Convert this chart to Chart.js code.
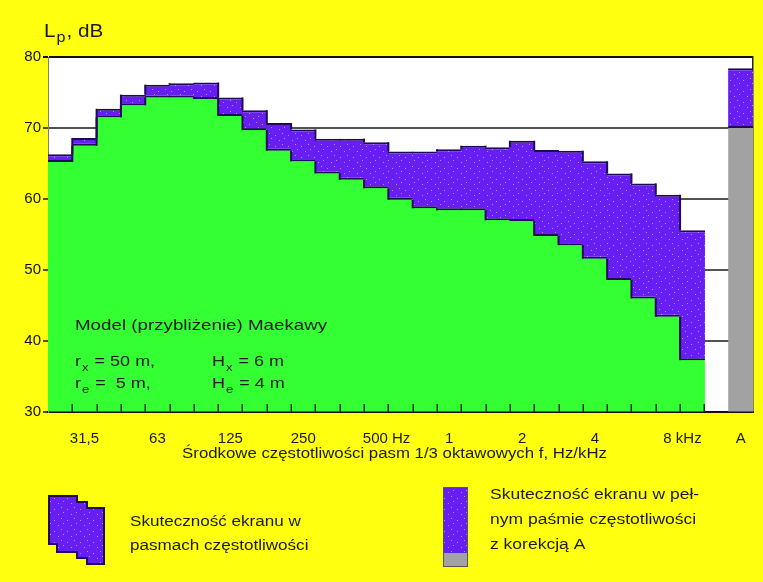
<!DOCTYPE html>
<html lang="pl">
<head>
<meta charset="utf-8">
<title>Skuteczność ekranu akustycznego – model Maekawy</title>
<script src="https://cdn.jsdelivr.net/npm/chart.js@4.4.1/dist/chart.umd.min.js"></script>
<style>
  html, body { margin: 0; padding: 0; background: #ffff10; }
  canvas { display: block; }
</style>
</head>
<body>
<canvas id="chart" width="763" height="582"></canvas>
<script>
// Pasma tercjowe (Hz), pusta kolumna odstępu i poziom skorygowany A
const bands = ['25', '31,5', '40', '50', '63', '80', '100', '125', '160', '200', '250', '315', '400',
  '500', '630', '800', '1k', '1,25k', '1,6k', '2k', '2,5k', '3,15k', '4k', '5k', '6,3k', '8k', '10k', '', 'A'];
// Opisy osi częstotliwości
const tickLabels = ['', '31,5', '', '', '63', '', '', '125', '', '', '250', '', '', '500 Hz', '', '',
  '1', '', '', '2', '', '', '4', '', '', '8 kHz', '', '', 'A'];
// Poziom dźwięku bez ekranu, dB
const levelWithoutBarrier = [66.3, 68.6, 72.7, 74.7, 76.1, 76.3, 76.4, 74.3, 72.5, 70.7, 69.8, 68.5, 68.5,
  68.0, 66.7, 66.7, 67.0, 67.5, 67.3, 68.2, 66.9, 66.8, 65.3, 63.6, 62.2, 60.6, 55.6];
// Poziom dźwięku za ekranem, dB
const levelWithBarrier = [65.2, 67.5, 71.5, 73.2, 74.3, 74.3, 74.1, 71.7, 69.7, 66.8, 65.3, 63.6, 62.7,
  61.5, 59.9, 58.7, 58.4, 58.4, 57.0, 56.9, 54.8, 53.5, 51.6, 48.6, 46.0, 43.4, 37.3];
// Poziom A: za ekranem, bez ekranu, dB(A)
const levelA = [70.0, 78.4];
// Podziałka osi poziomu
const yTicks = [30, 40, 50, 60, 70, 80];

const FONT = '"Liberation Sans", Arial, Helvetica, sans-serif';
const TEXT = '#1a1a1a';
const GREEN = '#33ff33';
const GREY = '#a2a2a2';
const PURPLE = '#661ef2';
const EDGE = '#1d0a58';

const aIndex = bands.length - 1;
const nBands = levelWithBarrier.length;

// Fioletowe wypełnienie z drobnym jasnym nakrapianiem
function speckle() {
  const c = document.createElement('canvas');
  c.width = 13; c.height = 11;
  const g = c.getContext('2d');
  g.fillStyle = PURPLE;
  g.fillRect(0, 0, c.width, c.height);
  g.fillStyle = 'rgba(215,170,255,0.75)';
  [[2, 3], [9, 1], [6, 8], [11, 6]].forEach(([x, y]) => g.fillRect(x, y, 1, 1));
  return g.createPattern(c, 'repeat');
}
const purpleFill = speckle();

const greenData = bands.map((_, i) => i < nBands ? levelWithBarrier[i] : (i === aIndex ? levelA[0] : null));
const purpleData = bands.map((_, i) => i < nBands ? [levelWithBarrier[i], levelWithoutBarrier[i]]
  : (i === aIndex ? [levelA[0], levelA[1]] : null));

// Liczba ma stać na środku pasma, jednostka wystaje w prawo
function centreOnNumber(ctx, label) {
  const sp = label.indexOf(' ');
  if (sp < 0) return label;
  ctx.save();
  ctx.font = '15px ' + FONT;
  const n = Math.round(ctx.measureText(label.slice(sp)).width / ctx.measureText(' ').width);
  ctx.restore();
  return ' '.repeat(n) + label;
}

// Tekst lekko rozciągnięty w poziomie
function stretchText(ctx, str, x, y, size, sx, color) {
  ctx.save();
  ctx.font = size + 'px ' + FONT;
  ctx.fillStyle = color;
  ctx.textBaseline = 'alphabetic';
  ctx.textAlign = 'left';
  const w = ctx.measureText(str).width * sx;
  ctx.translate(x, y);
  ctx.scale(sx, 1);
  ctx.fillText(str, 0, 0);
  ctx.restore();
  return x + w;
}
function textRuns(ctx, parts, x, y, size, sx, color) {
  parts.forEach(p => {
    if (typeof p === 'string') x = stretchText(ctx, p, x, y, size, sx, color);
    else x = stretchText(ctx, p.sub, x + 1, y + size * 0.3, Math.round(size * 0.75), sx, color) + 1;
  });
  return x;
}
function runsWidth(ctx, str, size, sx) {
  ctx.save();
  ctx.font = size + 'px ' + FONT;
  const w = ctx.measureText(str).width * sx;
  ctx.restore();
  return w;
}

const background = {
  id: 'background',
  beforeDraw(chart) {
    const { ctx, chartArea: a } = chart;
    ctx.save();
    ctx.fillStyle = '#ffff10';
    ctx.fillRect(0, 0, chart.width, chart.height);
    ctx.fillStyle = '#ffffff';
    ctx.fillRect(a.left, a.top, a.right - a.left, a.bottom - a.top);
    ctx.restore();
  }
};

// Pionowe krawędzie schodków (górna i dolna granica pasa skuteczności)
// oraz krótkie kreski podziałki na granicach pasm, od dołu wykresu
const bandEdges = {
  id: 'bandEdges',
  afterDatasetsDraw(chart) {
    const { ctx, chartArea: a, scales: { x, y } } = chart;
    ctx.save();
    ctx.strokeStyle = EDGE;
    ctx.lineWidth = 2;
    for (let i = 0; i < nBands - 1; i++) {
      const xb = (x.getPixelForValue(i) + x.getPixelForValue(i + 1)) / 2;
      [levelWithoutBarrier, levelWithBarrier].forEach(series => {
        const y1 = y.getPixelForValue(series[i]);
        const y2 = y.getPixelForValue(series[i + 1]);
        if (Math.abs(y1 - y2) > 1) {
          ctx.beginPath();
          ctx.moveTo(xb, Math.min(y1, y2));
          ctx.lineTo(xb, Math.max(y1, y2));
          ctx.stroke();
        }
      });
    }
    ctx.strokeStyle = '#143814';
    ctx.lineWidth = 1.5;
    for (let i = 0; i < nBands; i++) {
      const xb = Math.round((x.getPixelForValue(i) + x.getPixelForValue(i + 1)) / 2) + 0.25;
      ctx.beginPath();
      ctx.moveTo(xb, a.bottom);
      ctx.lineTo(xb, a.bottom - 8);
      ctx.stroke();
    }
    ctx.restore();
  }
};

const texts = {
  id: 'texts',
  afterDraw(chart) {
    const { ctx, chartArea: a } = chart;
    // Opis osi poziomu
    textRuns(ctx, ['L', { sub: 'p' }, ', dB'], a.left - 4, a.top - 20, 18, 1.15, TEXT);

    // Parametry modelu
    const lx = a.left + 27;
    stretchText(ctx, 'Model (przybliżenie) Maekawy', lx, a.top + 273, 15, 1.25, TEXT);
    textRuns(ctx, ['r', { sub: 'x' }, ' = 50 m,'], lx, a.top + 309, 15, 1.2, TEXT);
    textRuns(ctx, ['H', { sub: 'x' }, ' = 6 m'], lx + 137, a.top + 309, 15, 1.2, TEXT);
    textRuns(ctx, ['r', { sub: 'e' }, ' =  5 m,'], lx, a.top + 331, 15, 1.2, TEXT);
    textRuns(ctx, ['H', { sub: 'e' }, ' = 4 m'], lx + 137, a.top + 331, 15, 1.2, TEXT);

    // Tytuł osi częstotliwości
    const title = 'Środkowe częstotliwości pasm 1/3 oktawowych f, Hz/kHz';
    const tw = runsWidth(ctx, title, 14, 1.2);
    stretchText(ctx, title, (a.left + a.right) / 2 - 6 - tw / 2, a.bottom + 46, 14, 1.2, TEXT);

    // Legenda: skuteczność w pasmach
    ctx.save();
    const ix = 49, iy = 496;
    ctx.beginPath();
    ctx.moveTo(ix, iy);
    ctx.lineTo(ix + 28, iy);
    ctx.lineTo(ix + 28, iy + 6);
    ctx.lineTo(ix + 38, iy + 6);
    ctx.lineTo(ix + 38, iy + 12);
    ctx.lineTo(ix + 55, iy + 12);
    ctx.lineTo(ix + 55, iy + 68);
    ctx.lineTo(ix + 38, iy + 68);
    ctx.lineTo(ix + 38, iy + 62);
    ctx.lineTo(ix + 28, iy + 62);
    ctx.lineTo(ix + 28, iy + 56);
    ctx.lineTo(ix + 8, iy + 56);
    ctx.lineTo(ix + 8, iy + 48);
    ctx.lineTo(ix, iy + 48);
    ctx.closePath();
    ctx.fillStyle = purpleFill;
    ctx.fill();
    ctx.strokeStyle = EDGE;
    ctx.lineWidth = 2;
    ctx.stroke();
    ctx.restore();
    stretchText(ctx, 'Skuteczność ekranu w', 130, 526, 14, 1.22, TEXT);
    stretchText(ctx, 'pasmach częstotliwości', 130, 550, 14, 1.22, TEXT);

    // Legenda: skuteczność w pełnym paśmie z korekcją A
    ctx.save();
    const bx = 443, by = 487, bw = 25, bh = 80;
    ctx.fillStyle = purpleFill;
    ctx.fillRect(bx, by, bw, bh - 14);
    ctx.fillStyle = GREY;
    ctx.fillRect(bx, by + bh - 14, bw, 14);
    ctx.strokeStyle = '#555';
    ctx.lineWidth = 1;
    ctx.strokeRect(bx + 0.5, by + 0.5, bw - 1, bh - 1);
    ctx.restore();
    stretchText(ctx, 'Skuteczność ekranu w peł-', 490, 499, 14, 1.25, TEXT);
    stretchText(ctx, 'nym paśmie częstotliwości', 490, 524, 14, 1.25, TEXT);
    stretchText(ctx, 'z korekcją A', 490, 549, 14, 1.25, TEXT);
  }
};

new Chart(document.getElementById('chart'), {
  type: 'bar',
  data: {
    labels: bands,
    datasets: [
      {
        label: 'Za ekranem',
        data: greenData,
        base: yTicks[0],
        backgroundColor: c => c.dataIndex === aIndex ? GREY : GREEN,
        borderWidth: 0,
        inflateAmount: 0.5,
        grouped: false,
        order: 2
      },
      {
        label: 'Skuteczność ekranu',
        data: purpleData,
        backgroundColor: purpleFill,
        borderColor: EDGE,
        borderWidth: { top: 2, bottom: 2, left: 0, right: 0 },
        borderSkipped: false,
        // lekka zakładka sąsiednich słupków, żeby pas był jednolity
        barPercentage: 1.05,
        grouped: false,
        order: 1
      }
    ]
  },
  options: {
    responsive: false,
    animation: false,
    devicePixelRatio: 1,
    layout: { padding: { top: 57, right: 10, bottom: 0, left: 0 } },
    datasets: { bar: { barPercentage: 1, categoryPercentage: 1 } },
    plugins: { legend: { display: false }, tooltip: { enabled: false } },
    scales: {
      x: {
        z: 1,
        grid: { display: false },
        border: { display: true, color: '#111', width: 2 },
        ticks: {
          autoSkip: false,
          maxRotation: 0,
          padding: 10,
          color: TEXT,
          font: { family: FONT, size: 15 },
          callback(v, i) { return centreOnNumber(this.ctx, tickLabels[i]); }
        },
        afterFit(s) { s.height = 170; }
      },
      y: {
        z: 1,
        min: yTicks[0],
        max: yTicks[yTicks.length - 1],
        afterBuildTicks(s) { s.ticks = yTicks.map(v => ({ value: v })); },
        grid: {
          color: c => (c.tick && c.tick.value === yTicks[yTicks.length - 1]) ? '#111' : 'rgba(0,0,0,0.68)',
          lineWidth: 2,
          drawTicks: true,
          tickLength: 5
        },
        border: { display: true, color: '#808080', width: 1 },
        ticks: { padding: 2, color: '#111', font: { family: FONT, size: 15 } },
        afterFit(s) { s.width = 48; }
      },
      yRight: {
        position: 'right',
        z: 1,
        min: yTicks[0],
        max: yTicks[yTicks.length - 1],
        grid: { display: false },
        ticks: { display: false },
        border: { display: true, color: '#222', width: 1.5 },
        afterFit(s) { s.width = 0; }
      }
    }
  },
  plugins: [background, bandEdges, texts]
});
</script>
</body>
</html>
